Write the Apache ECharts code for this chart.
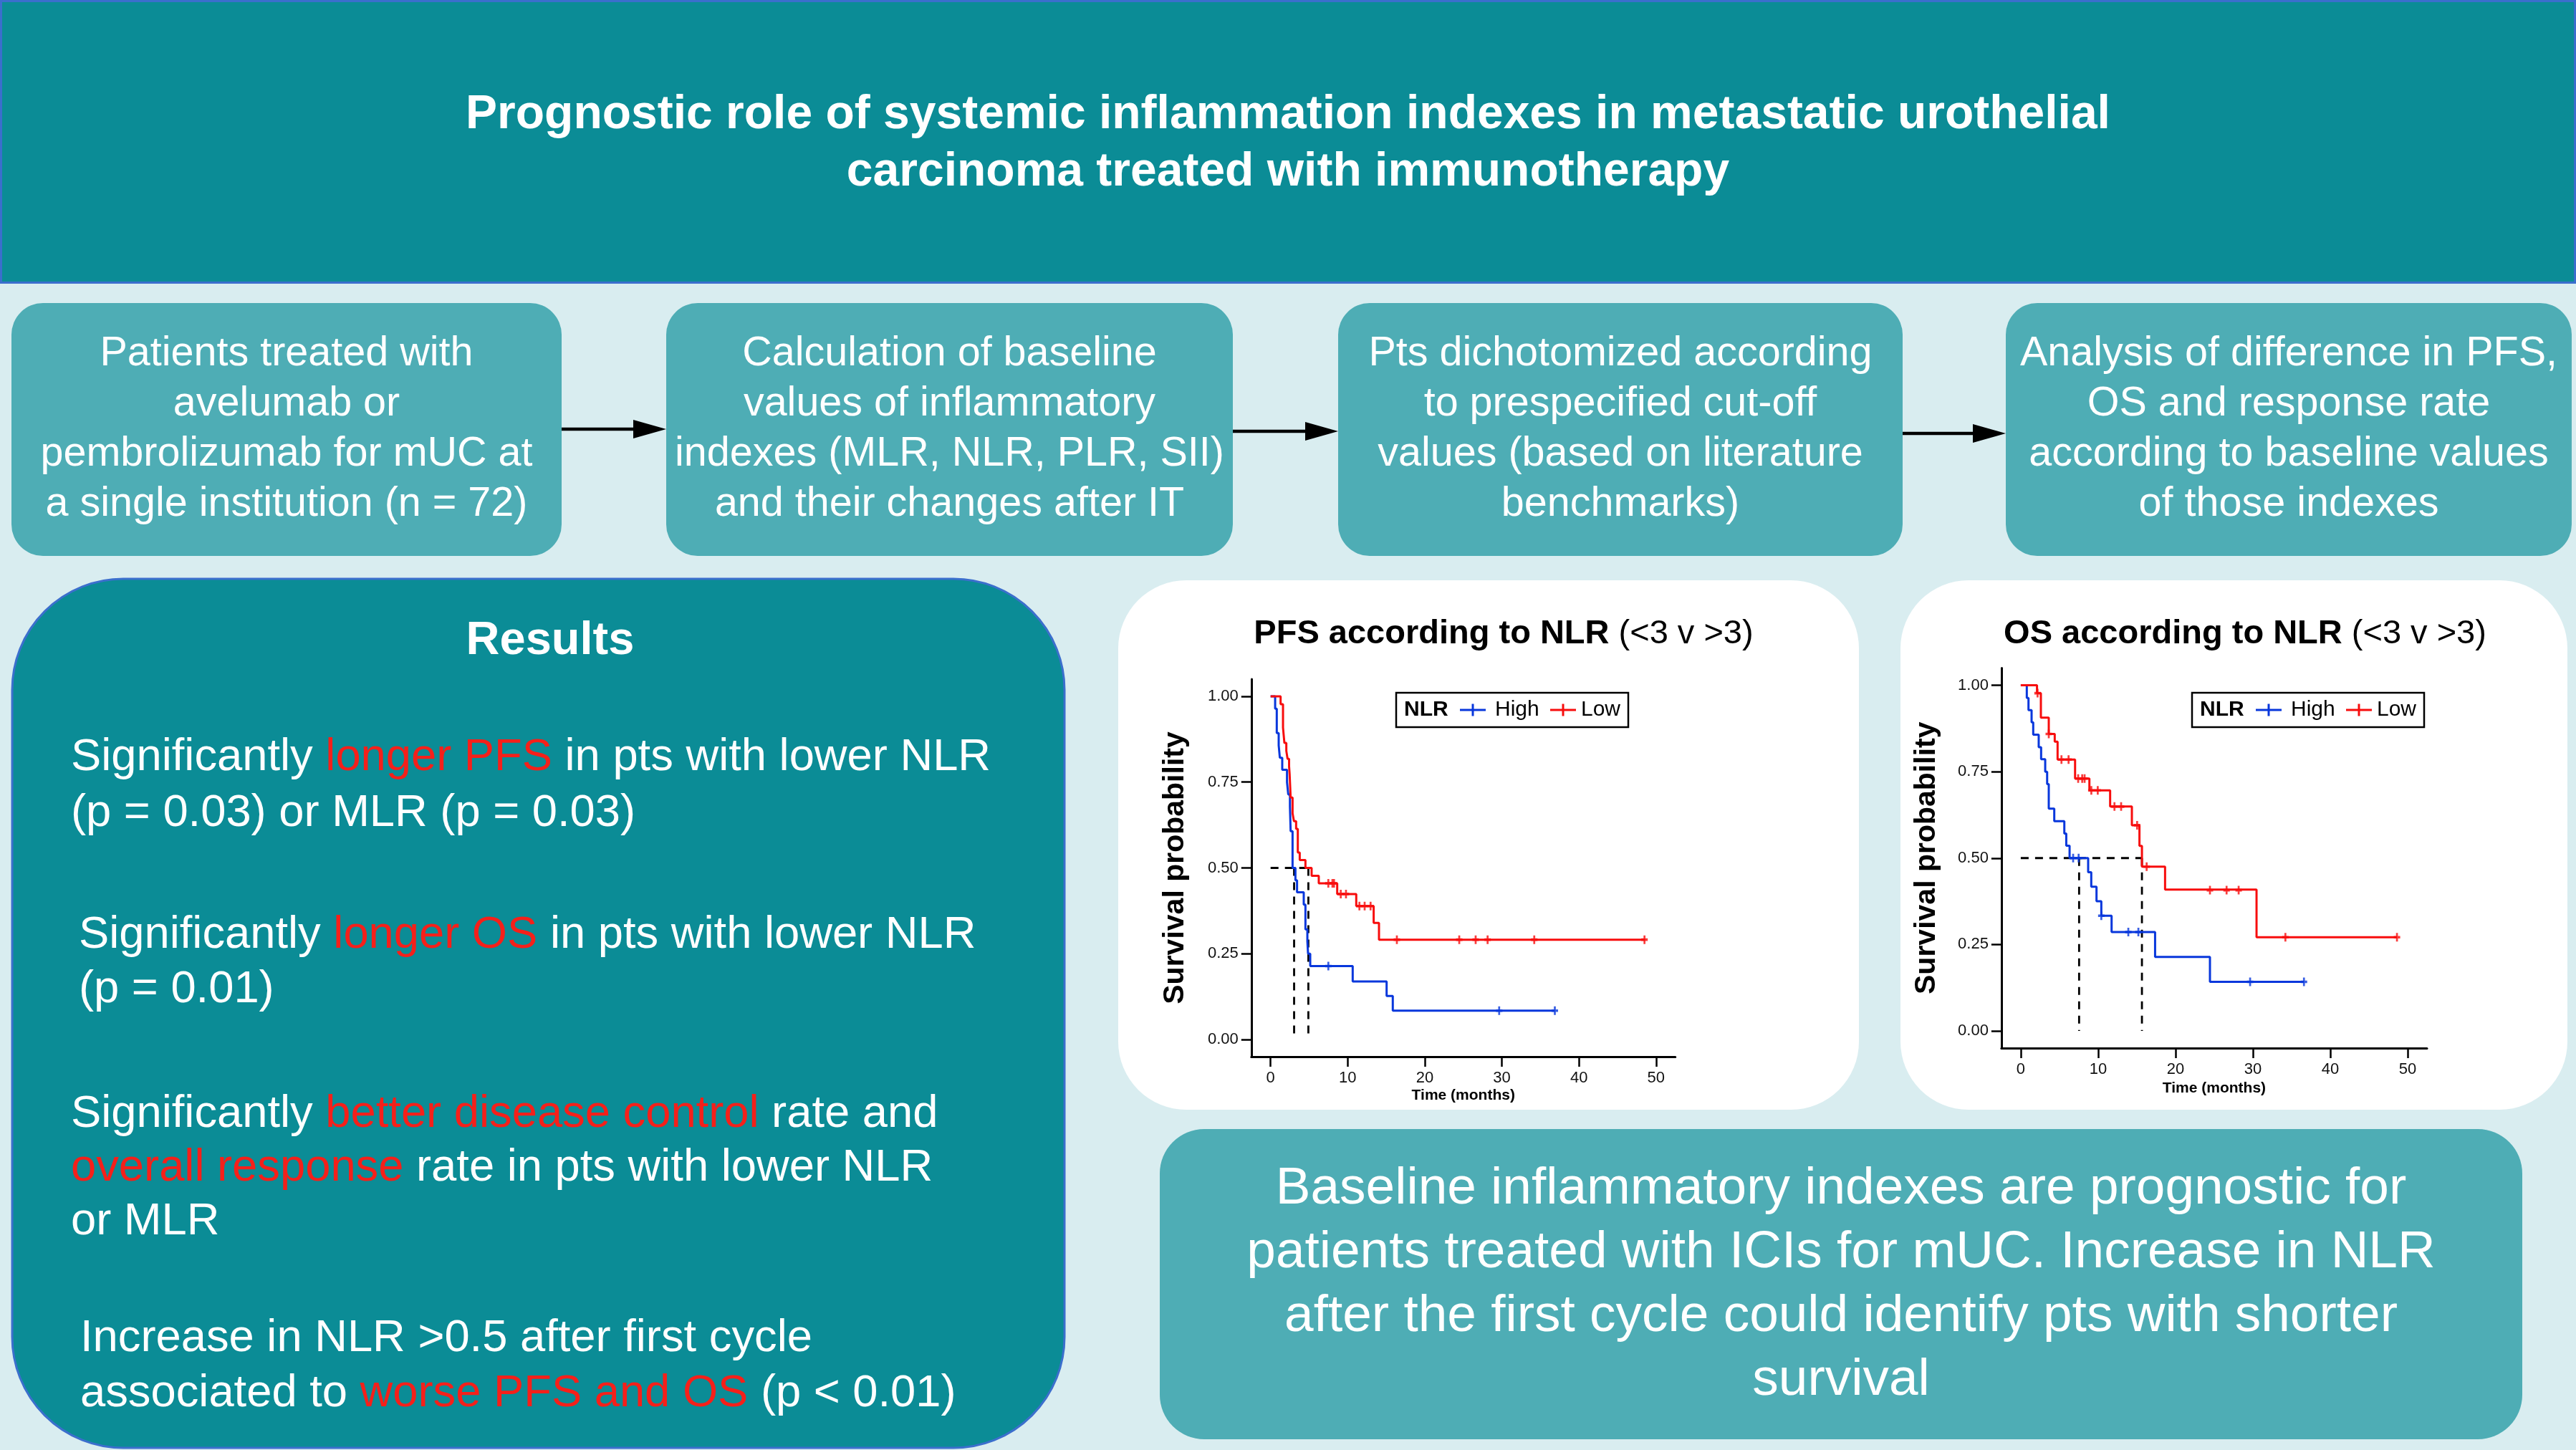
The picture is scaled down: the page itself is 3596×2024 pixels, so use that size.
<!DOCTYPE html>
<html><head><meta charset="utf-8">
<script src="https://cdn.jsdelivr.net/npm/echarts@6/dist/echarts.min.js"></script>
<style>html,body{margin:0;padding:0;background:#d9edf0;overflow:hidden}#c{width:3596px;height:2024px}</style>
</head><body><div id="c"></div>
<script>
// ---------- DATA ----------
const xTicks = [0, 10, 20, 30, 40, 50];
const yTicks = [0, 0.25, 0.5, 0.75, 1];

// PFS (NLR High / Low): [time, survival] step points
const pfsHigh = [[0,1],[0.59,0.964],[0.80,0.893],[1.05,0.857],[1.20,0.821],[1.51,0.786],[2.13,0.75],[2.29,0.714],[2.51,0.679],[2.60,0.607],[2.85,0.5],[3.22,0.464],[3.43,0.429],[4.30,0.393],[4.52,0.321],[4.77,0.286],[4.86,0.25],[5.14,0.214],[10.65,0.169],[15.05,0.127],[15.85,0.084],[36.87,0.084]];
const pfsHighCens = [[7.49,0.214],[29.65,0.084],[36.87,0.084]];
const pfsLow = [[0,1],[1.30,0.977],[1.61,0.909],[1.79,0.864],[2.04,0.841],[2.20,0.818],[2.40,0.795],[2.47,0.773],[2.60,0.705],[2.85,0.659],[3.03,0.636],[3.31,0.614],[3.53,0.545],[3.78,0.523],[4.52,0.5],[5.32,0.477],[6.25,0.455],[8.64,0.424],[11.11,0.389],[13.37,0.340],[14.06,0.291],[48.6,0.291]];
const pfsLowCens = [[7.49,0.455],[8.02,0.455],[8.23,0.455],[9.10,0.424],[9.78,0.424],[11.52,0.389],[12.20,0.389],[12.97,0.389],[16.38,0.291],[24.47,0.291],[26.60,0.291],[28.15,0.291],[34.20,0.291],[48.50,0.291]];
const pfsMedians = [3.05, 4.9];

// OS (NLR High / Low)
const osHigh = [[0,1],[0.78,0.963],[1.00,0.928],[1.40,0.893],[1.61,0.857],[2.32,0.821],[2.63,0.786],[3.16,0.75],[3.41,0.714],[3.62,0.643],[4.33,0.607],[5.63,0.571],[5.88,0.536],[6.31,0.5],[8.71,0.459],[9.11,0.417],[9.79,0.375],[10.41,0.333],[11.74,0.286],[17.36,0.214],[24.45,0.142],[36.6,0.142]];
const osHighCens = [[6.77,0.5],[7.48,0.5],[10.41,0.333],[13.9,0.286],[15.2,0.286],[29.64,0.142],[36.6,0.142]];
const osLow = [[0,1],[2.10,0.977],[2.60,0.906],[3.62,0.859],[4.39,0.837],[4.76,0.785],[7.02,0.730],[8.87,0.696],[11.55,0.649],[14.36,0.595],[15.34,0.535],[15.66,0.475],[18.65,0.409],[30.47,0.271],[48.62,0.271]];
const osLowCens = [[2.17,0.977],[3.62,0.859],[5.26,0.785],[6.18,0.785],[7.42,0.730],[7.94,0.730],[8.25,0.730],[9.12,0.696],[9.95,0.696],[12.11,0.649],[12.97,0.649],[15.04,0.595],[16.27,0.475],[24.45,0.407],[26.6,0.407],[28.16,0.407],[34.2,0.271],[48.62,0.271]];
const osMedians = [7.54, 15.66];

// ---------- TEXT ----------
const headerLines = ['Prognostic role of systemic inflammation indexes in metastatic urothelial', 'carcinoma treated with immunotherapy'];
const flowSteps = [
  ['Patients treated with', 'avelumab or', 'pembrolizumab for mUC at', 'a single institution (n = 72)'],
  ['Calculation of baseline', 'values of inflammatory', 'indexes (MLR, NLR, PLR, SII)', 'and their changes after IT'],
  ['Pts dichotomized according', 'to prespecified cut-off', 'values (based on literature', 'benchmarks)'],
  ['Analysis of difference in PFS,', 'OS and response rate', 'according to baseline values', 'of those indexes']
];
const resultsTitle = 'Results';
const resultsParas = [
  [[['Significantly ',0],['longer PFS',1],[' in pts with lower NLR',0]], [['(p = 0.03) or MLR (p = 0.03)',0]]],
  [[['Significantly ',0],['longer OS',1],[' in pts with lower NLR',0]], [['(p = 0.01)',0]]],
  [[['Significantly ',0],['better disease control',1],[' rate and',0]], [['overall response',1],[' rate in pts with lower NLR',0]], [['or MLR',0]]],
  [[['Increase in NLR >0.5 after first cycle',0]], [['associated to ',0],['worse PFS and OS',1],[' (p < 0.01)',0]]]
];
const conclusionLines = ['Baseline inflammatory indexes are prognostic for', 'patients treated with ICIs for mUC. Increase in NLR', 'after the first cycle could identify pts with shorter', 'survival'];
const plotTitles = [['PFS according to NLR', ' (<3 v >3)'], ['OS according to NLR', ' (<3 v >3)']];
const legendTitle = 'NLR';
const legendNames = ['High', 'Low'];
const xName = 'Time (months)';
const yName = 'Survival probability';

// ---------- STYLE / LAYOUT ----------
const FF = '"Liberation Sans", Arial, Helvetica, sans-serif';
const TEAL = '#0b8c96', LTEAL = '#4eadb5', BORDER = '#3b6fcd', TXTRED = '#f5201a';
const BLUE = '#0837dc', RED = '#f70d0d';
const PLUS = 'path://M3.5,0H6.5V3.5H10V6.5H6.5V10H3.5V6.5H0V3.5H3.5Z';

const G = [];
function rect(x, y, w, h, r, fill, stroke, lw) {
  G.push({type:'rect', z:-1, shape:{x, y, width:w, height:h, r}, style:{fill, stroke: stroke || null, lineWidth: lw || 0}});
}
function text(x, y, t, size, opt) {
  G.push({type:'text', z:5, style:Object.assign({x, y, text:t, fontSize:size, fontFamily:FF, fill:'#fff', align:'center', verticalAlign:'middle'}, opt || {})});
}
// header
rect(1.5, 1.5, 3593, 393, 0, TEAL, BORDER, 3);
text(1798, 201, headerLines.join('\n'), 66, {fontWeight:'bold', lineHeight:80});
// flow boxes
const boxX = [[16,784],[930,1721],[1868,2656],[2800,3590]];
const boxTop = 423, boxBot = 776;
flowSteps.forEach((lines, i) => {
  const [a, b] = boxX[i];
  rect(a, boxTop, b - a, boxBot - boxTop, 44, LTEAL);
  text((a + b) / 2, (boxTop + boxBot) / 2, lines.join('\n'), 57.5, {lineHeight:70});
});
// arrows
const arrowY = [599, 602, 605];
for (let i = 0; i < 3; i++) {
  const x1 = boxX[i][1], x2 = boxX[i + 1][0], y = arrowY[i];
  G.push({type:'line', z:4, shape:{x1, y1:y, x2:x2 - 40, y2:y}, style:{stroke:'#000', lineWidth:4.5}});
  G.push({type:'polygon', z:4, shape:{points:[[x2 - 46, y - 13], [x2, y], [x2 - 46, y + 13]]}, style:{fill:'#000'}});
}
// results box
const RFS = 63.3;
rect(17, 808, 1469, 1213, 155, TEAL, BORDER, 3);
text(768, 895, resultsTitle, 65, {fontWeight:'bold'});
const resLineY = [[1058, 1136], [1306, 1382], [1556, 1631, 1706], [1869, 1946]];
const resX = [99, 110, 99, 112];
resultsParas.forEach((para, pi) => {
  para.forEach((segs, li) => {
    const t = segs.map(([s, r]) => '{' + (r ? 'r' : 'w') + '|' + s + '}').join('');
    text(resX[pi], resLineY[pi][li], t, RFS, {align:'left', rich:{
      w:{fill:'#fff', fontSize:RFS, fontFamily:FF},
      r:{fill:TXTRED, fontSize:RFS, fontFamily:FF}}});
  });
});
// KM panels
rect(1561, 810, 1034, 739, 95, '#ffffff');
rect(2653, 810, 931, 739, 95, '#ffffff');
// plot titles
const titleX = [2099, 3134];
plotTitles.forEach((pt, i) => {
  text(titleX[i], 885, '{b|' + pt[0] + '}{n|' + pt[1] + '}', 47, {fill:'#000', rich:{
    b:{fill:'#000', fontSize:47, fontWeight:'bold', fontFamily:FF},
    n:{fill:'#000', fontSize:47, fontFamily:FF}}});
});
// legends
function legend(x0) {
  const y = 991;
  G.push({type:'rect', z:6, shape:{x:x0, y:967, width:324, height:48}, style:{fill:'#fff', stroke:'#000', lineWidth:2.5}});
  G.push({type:'text', z:7, style:{x:x0 + 11, y, text:legendTitle, fontSize:30, fontWeight:'bold', fontFamily:FF, fill:'#000', align:'left', verticalAlign:'middle'}});
  const items = [[89, BLUE, 138, legendNames[0]], [215, RED, 258, legendNames[1]]];
  items.forEach(([lx, col, tx, name]) => {
    G.push({type:'line', z:7, shape:{x1:x0 + lx, y1:y, x2:x0 + lx + 36, y2:y}, style:{stroke:col, lineWidth:3}});
    G.push({type:'line', z:7, shape:{x1:x0 + lx + 18, y1:y - 8.5, x2:x0 + lx + 18, y2:y + 8.5}, style:{stroke:col, lineWidth:3}});
    G.push({type:'text', z:7, style:{x:x0 + tx, y, text:name, fontSize:30, fontFamily:FF, fill:'#000', align:'left', verticalAlign:'middle'}});
  });
}
legend(1949);
legend(3060);
// conclusion
rect(1619, 1576, 1902, 433, 62, LTEAL);
text(2570, 1793, conclusionLines.join('\n'), 73, {lineHeight:89});

// ---------- AXES / SERIES ----------
const grids = [
  {left:1746.8, top:948, width:591.9, height:527},
  {left:2793.9, top:932.4, width:594.1, height:530.7}
];
function xAx(i, gap) {
  return {gridIndex:i, type:'value', min:-2.5, max:52.5,
    axisLine:{show:true, onZero:false, lineStyle:{color:'#000', width:3}},
    axisTick:{show:true, length:14, customValues:xTicks, lineStyle:{color:'#000', width:2.5}},
    axisLabel:{customValues:xTicks, fontSize:22, color:'#111', margin:19, fontFamily:FF},
    splitLine:{show:false},
    name:xName, nameLocation:'middle', nameGap:gap,
    nameTextStyle:{fontSize:21, fontWeight:'bold', color:'#000', fontFamily:FF}};
}
function yAx(i, gap) {
  return {gridIndex:i, type:'value', min:-0.05, max:1.05,
    axisLine:{show:true, onZero:false, lineStyle:{color:'#000', width:3}},
    axisTick:{show:true, length:14, customValues:yTicks, lineStyle:{color:'#000', width:2.5}},
    axisLabel:{customValues:yTicks, fontSize:22, color:'#111', margin:18, fontFamily:FF, formatter:v => v.toFixed(2)},
    splitLine:{show:false},
    name:yName, nameLocation:'middle', nameGap:gap,
    nameTextStyle:{fontSize:41, fontWeight:'bold', color:'#000', fontFamily:FF}};
}
function km(i, data, col) {
  return {type:'line', xAxisIndex:i, yAxisIndex:i, data, step:'end', showSymbol:false, silent:true, z:3,
    lineStyle:{color:col, width:3}, itemStyle:{color:col}};
}
function cens(i, data, col) {
  return {type:'scatter', xAxisIndex:i, yAxisIndex:i, data, symbol:PLUS, symbolSize:[9, 12], silent:true, z:4,
    itemStyle:{color:col}};
}
function dash(i, data) {
  return {type:'line', xAxisIndex:i, yAxisIndex:i, data, showSymbol:false, silent:true, z:2,
    lineStyle:{color:'#000', width:2.8, type:[11, 9]}};
}
function medianSeries(i, meds) {
  return [
    dash(i, [[0, 0.5], [Math.max(...meds), 0.5]]),
    dash(i, [[meds[0], 0.5], [meds[0], 0]]),
    dash(i, [[meds[1], 0.5], [meds[1], 0]])
  ];
}
const series = [
  ...medianSeries(0, pfsMedians),
  km(0, pfsHigh, BLUE), km(0, pfsLow, RED),
  cens(0, pfsHighCens, BLUE), cens(0, pfsLowCens, RED),
  ...medianSeries(1, osMedians),
  km(1, osHigh, BLUE), km(1, osLow, RED),
  cens(1, osHighCens, BLUE), cens(1, osLowCens, RED)
];

const chart = echarts.init(document.getElementById('c'), null, {renderer:'canvas'});
chart.setOption({
  animation:false,
  backgroundColor:'#d9edf0',
  grid:grids,
  xAxis:[xAx(0, 44), xAx(1, 46)],
  yAxis:[yAx(0, 86), yAx(1, 84)],
  graphic:{elements:G},
  series
});
</script></body></html>
